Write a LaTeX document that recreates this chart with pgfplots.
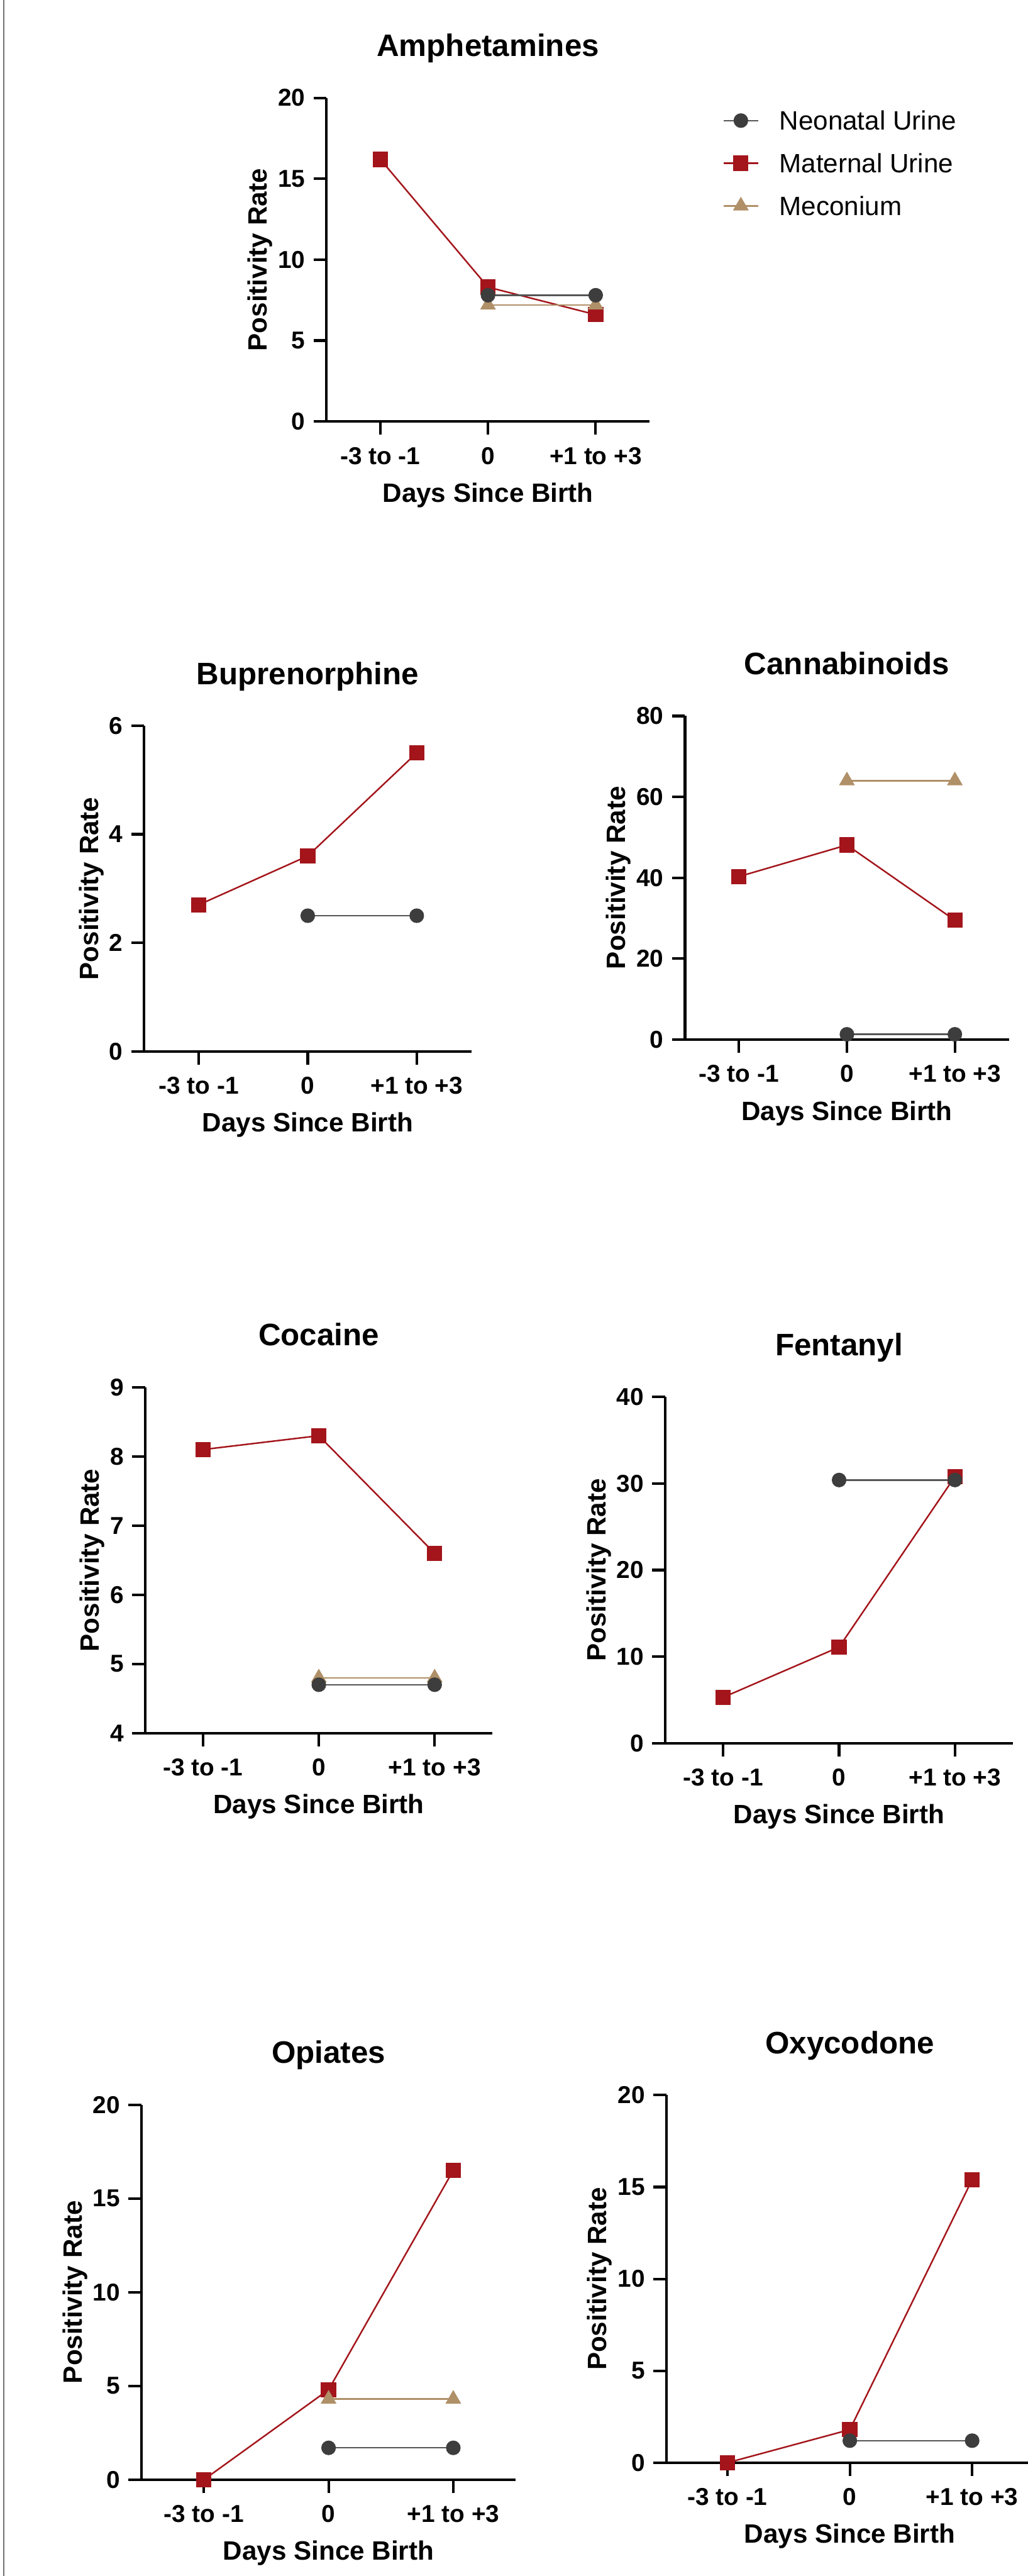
\documentclass[border=0pt]{standalone}
\usepackage{fontspec}
\setmainfont{Liberation Sans}
\usepackage{pgfplots}
\pgfplotsset{compat=1.18}
\definecolor{neom}{HTML}{3D3D3D}
\definecolor{neol}{HTML}{555555}
\definecolor{matc}{HTML}{A3151B}
\definecolor{mecc}{HTML}{B09068}
\definecolor{edge}{HTML}{707070}
\pgfplotsset{
  panel/.style={
    scale only axis, anchor=south west,
    axis x line*=bottom, axis y line*=left,
    xmin=-0.5, xmax=2.5, xtick={0,1,2},
    xticklabels={-3 to -1,0,+1 to +3},
    tick align=outside, major tick length=5.5pt,
    minor tick num=0,
    tick style={black, line width=1.1pt},
    axis line style={black, line width=1.1pt},
    tick label style={font=\bfseries\fontsize{10.3}{12}\selectfont},
    xticklabel style={yshift=-1.8pt},
    label style={font=\bfseries\fontsize{11.2}{13}\selectfont},
    title style={font=\bfseries\fontsize{13.1}{15}\selectfont, at={(0.5,1)}, anchor=base, yshift=11.5pt},
    xlabel style={at={(0.5,0)}, anchor=base, yshift=-34pt},
    ylabel shift=-4.5pt,
    xlabel={Days Since Birth}, ylabel={Positivity Rate},
    clip=false,
    /pgf/number format/assume math mode=true,
  },
  neo/.style={color=neol, line width=0.65pt, mark=*, mark size=2.75pt, mark options={solid, fill=neom, draw=neom}},
  mat/.style={color=matc, line width=0.65pt, mark=square*, mark size=2.9pt, mark options={solid, fill=matc, draw=matc}},
  mec/.style={color=mecc, line width=0.65pt, mark=triangle*, mark size=3.2pt, mark options={solid, fill=mecc, draw=mecc}},
}
\begin{document}
\begin{tikzpicture}
\path[use as bounding box] (0pt,0pt) rectangle (434pt,1087.5pt);
\draw[edge, line width=0.5pt] (1.5pt,0pt) -- (1.5pt,1087.5pt);

% Amphetamines
\begin{axis}[panel, at={(137.875pt,909.575pt)}, width=136.4pt, height=136.6pt,
  title={Amphetamines}, ymin=0, ymax=20, ytick={0,5,10,15,20},
  legend cell align=left,
  legend image code/.code={\draw[mark repeat=2,mark phase=2] plot coordinates {(0pt,0pt) (7.25pt,0pt) (14.5pt,0pt)};},
  legend style={at={(axis description cs:1.2273,0.798)}, anchor=west, draw=none, fill=none,
    inner sep=0pt, outer sep=0pt, row sep=10pt,
    font=\fontsize{11.2}{13}\selectfont,
    nodes={inner sep=0pt, text height=8pt, text depth=0pt},
    /tikz/every odd column/.append style={column sep=8.7pt}}]
\addlegendimage{neo}\addlegendentry{Neonatal Urine}
\addlegendimage{mat}\addlegendentry{Maternal Urine}
\addlegendimage{mec}\addlegendentry{Meconium}
\addplot[mat, forget plot] coordinates {(0,16.2) (1,8.3) (2,6.6)};
\addplot[mec, forget plot] coordinates {(1,7.2) (2,7.2)};
\addplot[neo, forget plot] coordinates {(1,7.8) (2,7.8)};
\end{axis}

% Buprenorphine
\begin{axis}[panel, at={(60.9pt,643.625pt)}, width=138.1pt, height=137.5pt,
  title={Buprenorphine}, ymin=0, ymax=6, ytick={0,2,4,6}]
\addplot[mat] coordinates {(0,2.7) (1,3.6) (2,5.5)};
\addplot[neo] coordinates {(1,2.5) (2,2.5)};
\end{axis}

% Cannabinoids
\begin{axis}[panel, at={(289.25pt,648.625pt)}, width=136.75pt, height=136.6pt,
  title={Cannabinoids}, ymin=0, ymax=80, ytick={0,20,40,60,80}]
\addplot[mat] coordinates {(0,40.3) (1,48.1) (2,29.5)};
\addplot[mec] coordinates {(1,64) (2,64)};
\addplot[neo] coordinates {(1,1.3) (2,1.3)};
\end{axis}

% Cocaine
\begin{axis}[panel, at={(61.25pt,355.825pt)}, width=146.75pt, height=146pt,
  title={Cocaine}, ymin=4, ymax=9, ytick={4,5,6,7,8,9}]
\addplot[mat] coordinates {(0,8.1) (1,8.3) (2,6.6)};
\addplot[mec] coordinates {(1,4.8) (2,4.8)};
\addplot[neo] coordinates {(1,4.7) (2,4.7)};
\end{axis}

% Fentanyl
\begin{axis}[panel, at={(280.925pt,351.575pt)}, width=146.8pt, height=146.2pt,
  title={Fentanyl}, ymin=0, ymax=40, ytick={0,10,20,30,40}]
\addplot[mat] coordinates {(0,5.3) (1,11.1) (2,30.8)};
\addplot[neo] coordinates {(1,30.4) (2,30.4)};
\end{axis}

% Opiates
\begin{axis}[panel, at={(59.75pt,40.65pt)}, width=158pt, height=158.3pt,
  title={Opiates}, ymin=0, ymax=20, ytick={0,5,10,15,20}]
\addplot[mat] coordinates {(0,0) (1,4.8) (2,16.5)};
\addplot[mec] coordinates {(1,4.3) (2,4.3)};
\addplot[neo] coordinates {(1,1.7) (2,1.7)};
\end{axis}

% Oxycodone
\begin{axis}[panel, at={(281.35pt,47.825pt)}, width=155pt, height=155.2pt,
  title={Oxycodone}, ymin=0, ymax=20, ytick={0,5,10,15,20}]
\addplot[mat] coordinates {(0,0) (1,1.8) (2,15.4)};
\addplot[neo] coordinates {(1,1.2) (2,1.2)};
\end{axis}
\end{tikzpicture}
\end{document}
